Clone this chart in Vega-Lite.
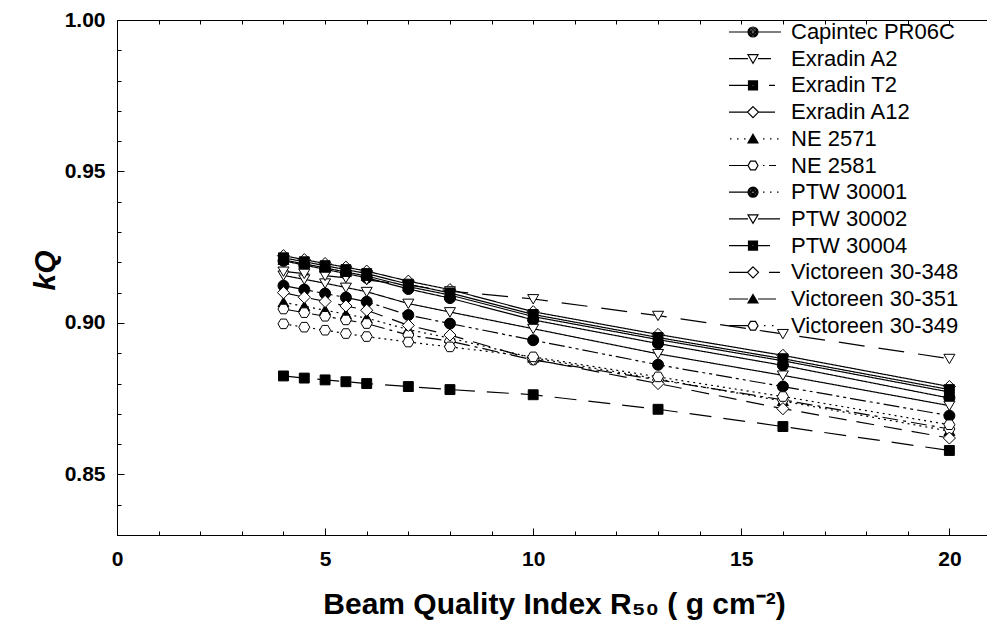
{
  "$schema": "https://vega.github.io/schema/vega-lite/v6.json",
  "width": 874,
  "height": 515,
  "autosize": {"type": "none"},
  "padding": {"left": 117, "top": 20, "right": 0, "bottom": 92},
  "background": "white",
  "config": {
    "view": {"stroke": "black", "strokeWidth": 1},
    "font": "Liberation Sans",
    "axis": {"grid": false, "domainColor": "black", "tickColor": "black", "labelColor": "black", "titleColor": "black", "tickWidth": 1, "domainWidth": 1}
  },
  "data": {"values": [
    {"s":"Capintec PR06C","x":4,"k":0.9205},{"s":"Capintec PR06C","x":4.5,"k":0.9191},{"s":"Capintec PR06C","x":5,"k":0.9177},{"s":"Capintec PR06C","x":5.5,"k":0.9163},{"s":"Capintec PR06C","x":6,"k":0.9149},{"s":"Capintec PR06C","x":7,"k":0.9112},{"s":"Capintec PR06C","x":8,"k":0.9082},{"s":"Capintec PR06C","x":10,"k":0.9010},{"s":"Capintec PR06C","x":13,"k":0.8932},{"s":"Capintec PR06C","x":16,"k":0.8860},{"s":"Capintec PR06C","x":20,"k":0.8752},
    {"s":"Exradin A2","x":4,"k":0.9157},{"s":"Exradin A2","x":4.5,"k":0.9144},{"s":"Exradin A2","x":5,"k":0.9131},{"s":"Exradin A2","x":5.5,"k":0.9117},{"s":"Exradin A2","x":6,"k":0.9103},{"s":"Exradin A2","x":7,"k":0.9064},{"s":"Exradin A2","x":8,"k":0.9036},{"s":"Exradin A2","x":10,"k":0.8981},{"s":"Exradin A2","x":13,"k":0.8898},{"s":"Exradin A2","x":16,"k":0.8827},{"s":"Exradin A2","x":20,"k":0.8727},
    {"s":"Exradin T2","x":4,"k":0.8825},{"s":"Exradin T2","x":4.5,"k":0.8818},{"s":"Exradin T2","x":5,"k":0.8812},{"s":"Exradin T2","x":5.5,"k":0.8806},{"s":"Exradin T2","x":6,"k":0.8800},{"s":"Exradin T2","x":7,"k":0.8790},{"s":"Exradin T2","x":8,"k":0.8780},{"s":"Exradin T2","x":10,"k":0.8763},{"s":"Exradin T2","x":13,"k":0.8715},{"s":"Exradin T2","x":16,"k":0.8658},{"s":"Exradin T2","x":20,"k":0.8579},
    {"s":"Exradin A12","x":4,"k":0.9222},{"s":"Exradin A12","x":4.5,"k":0.9209},{"s":"Exradin A12","x":5,"k":0.9196},{"s":"Exradin A12","x":5.5,"k":0.9184},{"s":"Exradin A12","x":6,"k":0.9171},{"s":"Exradin A12","x":7,"k":0.9138},{"s":"Exradin A12","x":8,"k":0.9110},{"s":"Exradin A12","x":10,"k":0.9037},{"s":"Exradin A12","x":13,"k":0.8962},{"s":"Exradin A12","x":16,"k":0.8893},{"s":"Exradin A12","x":20,"k":0.8790},
    {"s":"NE 2571","x":4,"k":0.9068},{"s":"NE 2571","x":4.5,"k":0.9055},{"s":"NE 2571","x":5,"k":0.9042},{"s":"NE 2571","x":5.5,"k":0.9029},{"s":"NE 2571","x":6,"k":0.9016},{"s":"NE 2571","x":7,"k":0.8978},{"s":"NE 2571","x":8,"k":0.8950},{"s":"NE 2571","x":10,"k":0.8885},{"s":"NE 2571","x":13,"k":0.8815},{"s":"NE 2571","x":16,"k":0.8742},{"s":"NE 2571","x":20,"k":0.8643},
    {"s":"NE 2581","x":4,"k":0.9046},{"s":"NE 2581","x":4.5,"k":0.9034},{"s":"NE 2581","x":5,"k":0.9022},{"s":"NE 2581","x":5.5,"k":0.9010},{"s":"NE 2581","x":6,"k":0.8998},{"s":"NE 2581","x":7,"k":0.8960},{"s":"NE 2581","x":8,"k":0.8940},{"s":"NE 2581","x":10,"k":0.8878},{"s":"NE 2581","x":13,"k":0.8812},{"s":"NE 2581","x":16,"k":0.8746},{"s":"NE 2581","x":20,"k":0.8650},
    {"s":"PTW 30001","x":4,"k":0.9123},{"s":"PTW 30001","x":4.5,"k":0.9110},{"s":"PTW 30001","x":5,"k":0.9097},{"s":"PTW 30001","x":5.5,"k":0.9084},{"s":"PTW 30001","x":6,"k":0.9070},{"s":"PTW 30001","x":7,"k":0.9026},{"s":"PTW 30001","x":8,"k":0.8998},{"s":"PTW 30001","x":10,"k":0.8943},{"s":"PTW 30001","x":13,"k":0.8862},{"s":"PTW 30001","x":16,"k":0.8790},{"s":"PTW 30001","x":20,"k":0.8694},
    {"s":"PTW 30002","x":4,"k":0.9170},{"s":"PTW 30002","x":4.5,"k":0.9163},{"s":"PTW 30002","x":5,"k":0.9156},{"s":"PTW 30002","x":5.5,"k":0.9149},{"s":"PTW 30002","x":6,"k":0.9142},{"s":"PTW 30002","x":7,"k":0.9125},{"s":"PTW 30002","x":8,"k":0.9105},{"s":"PTW 30002","x":10,"k":0.9079},{"s":"PTW 30002","x":13,"k":0.9024},{"s":"PTW 30002","x":16,"k":0.8964},{"s":"PTW 30002","x":20,"k":0.8882},
    {"s":"PTW 30004","x":4,"k":0.9215},{"s":"PTW 30004","x":4.5,"k":0.9202},{"s":"PTW 30004","x":5,"k":0.9189},{"s":"PTW 30004","x":5.5,"k":0.9176},{"s":"PTW 30004","x":6,"k":0.9163},{"s":"PTW 30004","x":7,"k":0.9128},{"s":"PTW 30004","x":8,"k":0.9099},{"s":"PTW 30004","x":10,"k":0.9028},{"s":"PTW 30004","x":13,"k":0.8952},{"s":"PTW 30004","x":16,"k":0.8882},{"s":"PTW 30004","x":20,"k":0.8780},
    {"s":"Victoreen 30-348","x":4,"k":0.9100},{"s":"Victoreen 30-348","x":4.5,"k":0.9085},{"s":"Victoreen 30-348","x":5,"k":0.9071},{"s":"Victoreen 30-348","x":5.5,"k":0.9056},{"s":"Victoreen 30-348","x":6,"k":0.9042},{"s":"Victoreen 30-348","x":7,"k":0.8992},{"s":"Victoreen 30-348","x":8,"k":0.8960},{"s":"Victoreen 30-348","x":10,"k":0.8880},{"s":"Victoreen 30-348","x":13,"k":0.8800},{"s":"Victoreen 30-348","x":16,"k":0.8717},{"s":"Victoreen 30-348","x":20,"k":0.8620},
    {"s":"Victoreen 30-351","x":4,"k":0.9208},{"s":"Victoreen 30-351","x":4.5,"k":0.9195},{"s":"Victoreen 30-351","x":5,"k":0.9182},{"s":"Victoreen 30-351","x":5.5,"k":0.9168},{"s":"Victoreen 30-351","x":6,"k":0.9155},{"s":"Victoreen 30-351","x":7,"k":0.9120},{"s":"Victoreen 30-351","x":8,"k":0.9092},{"s":"Victoreen 30-351","x":10,"k":0.9021},{"s":"Victoreen 30-351","x":13,"k":0.8945},{"s":"Victoreen 30-351","x":16,"k":0.8875},{"s":"Victoreen 30-351","x":20,"k":0.8772},
    {"s":"Victoreen 30-349","x":4,"k":0.8997},{"s":"Victoreen 30-349","x":4.5,"k":0.8986},{"s":"Victoreen 30-349","x":5,"k":0.8976},{"s":"Victoreen 30-349","x":5.5,"k":0.8965},{"s":"Victoreen 30-349","x":6,"k":0.8955},{"s":"Victoreen 30-349","x":7,"k":0.8937},{"s":"Victoreen 30-349","x":8,"k":0.8921},{"s":"Victoreen 30-349","x":10,"k":0.8888},{"s":"Victoreen 30-349","x":13,"k":0.8822},{"s":"Victoreen 30-349","x":16,"k":0.8757},{"s":"Victoreen 30-349","x":20,"k":0.8664}
  ]},
  "layer": [
    {
      "mark": {"type": "line", "color": "black", "strokeWidth": 1.2},
      "encoding": {
        "x": {"field": "x", "type": "quantitative", "scale": {"domain": [0, 21], "nice": false, "zero": false},
          "axis": {"orient": "bottom", "values": [0, 5, 10, 15, 20], "tickSize": -7, "labelPadding": 20, "labelFlush": false,
            "labelFont": "'Liberation Sans Narrow', 'Liberation Sans', sans-serif", "labelFontWeight": "bold", "labelFontSize": 21,
            "title": "Beam Quality Index R₅₀ ( g cm⁻²)", "titleFont": "'Liberation Sans Narrow', 'Liberation Sans', sans-serif",
            "titleFontWeight": "bold", "titleFontSize": 30, "titleX": 437, "titleY": 78, "titleBaseline": "alphabetic", "titleAnchor": "middle"}},
        "y": {"field": "k", "type": "quantitative", "scale": {"domain": [0.83, 1.0], "nice": false, "zero": false},
          "axis": {"orient": "left", "values": [0.85, 0.9, 0.95, 1.0], "format": ".2f", "tickSize": -7, "labelPadding": 19,
            "labelFont": "Liberation Sans", "labelFontWeight": "bold", "labelFontSize": 21,
            "title": "kQ", "titleFont": "Liberation Sans", "titleFontWeight": "bold", "titleFontStyle": "italic", "titleFontSize": 30,
            "titleX": -72, "titleY": 250, "titleAngle": -90, "titleBaseline": "middle", "titleAlign": "center"}},
        "strokeDash": {"field": "s", "type": "nominal", "legend": null,
          "scale": {"domain": ["Victoreen 30-349", "Victoreen 30-351", "Victoreen 30-348", "PTW 30004", "PTW 30002", "PTW 30001", "NE 2581", "NE 2571", "Exradin A12", "Exradin T2", "Exradin A2", "Capintec PR06C"],
            "range": [[2, 4], [1, 0], [18, 10], [1, 0], [26, 14], [16, 4, 3, 4, 3, 4], [16, 5, 3, 5], [2, 4], [1, 0], [22, 12], [1, 0], [1, 0]]}}
      }
    },
    {
      "mark": {"type": "point", "filled": true, "stroke": "black", "strokeWidth": 1, "size": 121, "opacity": 1},
      "encoding": {
        "x": {"field": "x", "type": "quantitative",
          "axis": {"orient": "bottom", "values": [1, 2, 3, 4, 6, 7, 8, 9, 11, 12, 13, 14, 16, 17, 18, 19], "tickSize": -4, "labels": false, "domain": false, "title": null}},
        "y": {"field": "k", "type": "quantitative",
          "axis": {"orient": "left", "values": [0.84, 0.86, 0.87, 0.88, 0.89, 0.91, 0.92, 0.93, 0.94, 0.96, 0.97, 0.98, 0.99], "tickSize": -4, "labels": false, "domain": false, "title": null}},
        "shape": {"field": "s", "type": "nominal", "legend": null,
          "scale": {"domain": ["Capintec PR06C", "Exradin A2", "Exradin T2", "Exradin A12", "NE 2571", "NE 2581", "PTW 30001", "PTW 30002", "PTW 30004", "Victoreen 30-348", "Victoreen 30-351", "Victoreen 30-349"],
            "range": ["M1,0A1,1 0 1,1 -1,0A1,1 0 1,1 1,0Z", "M-1,-0.8L1,-0.8L0,0.9Z", "M-0.9,-0.9H0.9V0.9H-0.9Z", "M0,-1.1L1.1,0L0,1.1L-1.1,0Z", "M0,-0.9L1,0.8L-1,0.8Z", "M-1,0L-0.5,-0.87L0.5,-0.87L1,0L0.5,0.87L-0.5,0.87Z",
              "M1,0A1,1 0 1,1 -1,0A1,1 0 1,1 1,0Z", "M-1,-0.8L1,-0.8L0,0.9Z", "M-0.9,-0.9H0.9V0.9H-0.9Z", "M0,-1.1L1.1,0L0,1.1L-1.1,0Z", "M0,-0.9L1,0.8L-1,0.8Z", "M-1,0L-0.5,-0.87L0.5,-0.87L1,0L0.5,0.87L-0.5,0.87Z"]}},
        "fill": {"condition": {"test": "indexof(['Capintec PR06C', 'Exradin T2', 'NE 2571', 'PTW 30001', 'PTW 30004', 'Victoreen 30-351'], datum.s) >= 0", "value": "black"}, "value": "white"}
      }
    },
    {
      "mark": {"type": "point", "opacity": 0},
      "encoding": {
        "x": {"field": "x", "type": "quantitative",
          "axis": {"orient": "top", "values": [1, 2, 3, 4, 5, 6, 7, 8, 9, 10, 11, 12, 13, 14, 15, 16, 17, 18, 19, 20], "tickSize": -4, "labels": false, "domain": false, "title": null}},
        "y": {"field": "k", "type": "quantitative", "axis": null}
      }
    },
    {
      "transform": [{"filter": "false"}],
      "mark": {"type": "point", "filled": true, "stroke": "black", "strokeWidth": 1.2, "size": 100, "opacity": 1},
      "encoding": {
        "x": {"field": "x", "type": "quantitative", "axis": null},
        "y": {"field": "k", "type": "quantitative", "axis": null},
        "shape": {"field": "s", "type": "nominal",
          "scale": {"domain": ["Capintec PR06C", "Exradin A2", "Exradin T2", "Exradin A12", "NE 2571", "NE 2581", "PTW 30001", "PTW 30002", "PTW 30004", "Victoreen 30-348", "Victoreen 30-351", "Victoreen 30-349"],
            "range": [
              "M-4.8,0H-1M1,0H5.6M1,0A1,1 0 1,1 -1,0A1,1 0 1,1 1,0ZM0.75,0A0.75,0.75 0 1,1 -0.75,0A0.75,0.75 0 1,1 0.75,0ZM0.5,0A0.5,0.5 0 1,1 -0.5,0A0.5,0.5 0 1,1 0.5,0ZM0.25,0A0.25,0.25 0 1,1 -0.25,0A0.25,0.25 0 1,1 0.25,0Z",
              "M-4.8,0H-1M1,0H3.6M-1,-0.8L1,-0.8L0,0.9Z",
              "M-4.8,0H-1M3.2,0H4.4M-0.9,-0.9H0.9V0.9H-0.9ZM-0.66,-0.66H0.66V0.66H-0.66ZM-0.42,-0.42H0.42V0.42H-0.42ZM-0.18,-0.18H0.18V0.18H-0.18Z",
              "M-4.8,0H-1M1,0H4.4M0,-1.1L1.1,0L0,1.1L-1.1,0Z",
              "M-4.6,0H-4.3M-3.2,0H-2.9M-1.8,0H-1.5M2.0,0H2.3M3.4,0H3.7M4.8,0H5.1M0,-0.9L1,0.8L-1,0.8ZM0,-0.617L0.75,0.658L-0.75,0.658ZM0,-0.334L0.5,0.516L-0.5,0.516ZM0,-0.05L0.25,0.375L-0.25,0.375Z",
              "M-4.8,0H-1M2.0,0H2.3M3.2,0H4.6M-1,0L-0.5,-0.87L0.5,-0.87L1,0L0.5,0.87L-0.5,0.87Z",
              "M-4.8,0H-1M2.0,0H2.3M3.4,0H3.7M4.8,0H5.1M1,0A1,1 0 1,1 -1,0A1,1 0 1,1 1,0ZM0.75,0A0.75,0.75 0 1,1 -0.75,0A0.75,0.75 0 1,1 0.75,0ZM0.5,0A0.5,0.5 0 1,1 -0.5,0A0.5,0.5 0 1,1 0.5,0ZM0.25,0A0.25,0.25 0 1,1 -0.25,0A0.25,0.25 0 1,1 0.25,0Z",
              "M-4.8,0H-1M1,0H5.4M-1,-0.8L1,-0.8L0,0.9Z",
              "M-4.8,0H-1M1,0H3.4M-0.9,-0.9H0.9V0.9H-0.9ZM-0.66,-0.66H0.66V0.66H-0.66ZM-0.42,-0.42H0.42V0.42H-0.42ZM-0.18,-0.18H0.18V0.18H-0.18Z",
              "M-4.8,0H-1M3.2,0H5.4M0,-1.1L1.1,0L0,1.1L-1.1,0Z",
              "M-4.8,0H-1M1,0H4.6M0,-0.9L1,0.8L-1,0.8ZM0,-0.617L0.75,0.658L-0.75,0.658ZM0,-0.334L0.5,0.516L-0.5,0.516ZM0,-0.05L0.25,0.375L-0.25,0.375Z",
              "M-4.8,0H-1M2.2,0H2.5M3.8,0H4.1M-1,0L-0.5,-0.87L0.5,-0.87L1,0L0.5,0.87L-0.5,0.87Z"]},
          "legend": {"title": null, "orient": "none", "legendX": 625, "legendY": 1, "padding": 0, "symbolSize": 100, "symbolOffset": 0,
            "symbolStrokeWidth": 1.2,
            "labelFont": "Liberation Sans", "labelFontSize": 22, "labelColor": "black", "labelOffset": 27, "labelLimit": 400, "rowPadding": 4.7}},
        "fill": {"condition": {"test": "indexof(['Capintec PR06C', 'Exradin T2', 'NE 2571', 'PTW 30001', 'PTW 30004', 'Victoreen 30-351'], datum.s) >= 0", "value": "black"}, "value": "white"}
      }
    }
  ],
  "resolve": {"axis": {"x": "independent", "y": "independent"}, "scale": {"shape": "independent"}}
}
